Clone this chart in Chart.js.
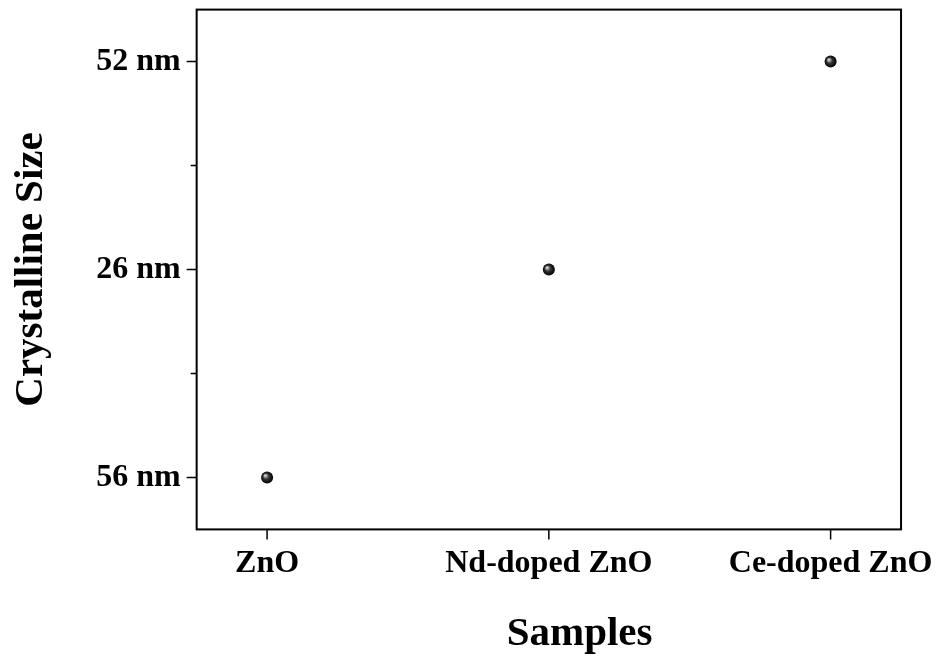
<!DOCTYPE html>
<html>
<head>
<meta charset="utf-8">
<script src="https://cdn.jsdelivr.net/npm/chart.js@4.4.1/dist/chart.umd.min.js"></script>
<style>
  html, body { margin: 0; padding: 0; background: #fff; }
  #wrap { width: 936px; height: 659px; }
</style>
</head>
<body>
<div id="wrap"><canvas id="sizeChart"></canvas></div>
<script>
// ===== Datos =====
const samples = ["ZnO", "Nd-doped ZnO", "Ce-doped ZnO"];
const sizeTicks = ["56 nm", "26 nm", "52 nm"];      // etiquetas eje Y, de abajo hacia arriba
const sampleSizes = ["56 nm", "26 nm", "52 nm"];    // tamaño de cada muestra

const serif = "'Liberation Serif', 'Times New Roman', serif";

const puntos = samples.map((s, i) => ({ x: i, y: sizeTicks.indexOf(sampleSizes[i]) }));

// Marco y ticks (mayores y menores) dibujados desde las escalas
const framePlugin = {
  id: "frame",
  afterDraw(chart) {
    const { ctx, chartArea: a, scales } = chart;
    ctx.save();
    ctx.strokeStyle = "#000";
    ctx.lineWidth = 2;
    ctx.strokeRect(a.left, a.top, a.right - a.left, a.bottom - a.top);

    ctx.lineWidth = 1.5;
    ctx.beginPath();
    scales.x.ticks.forEach(t => {
      const px = scales.x.getPixelForValue(t.value);
      const len = Number.isInteger(t.value) ? 10 : 6;
      ctx.moveTo(px, a.bottom);
      ctx.lineTo(px, a.bottom + len);
    });
    scales.y.ticks.forEach(t => {
      const py = scales.y.getPixelForValue(t.value);
      const len = Number.isInteger(t.value) ? 10 : 6;
      ctx.moveTo(a.left, py);
      ctx.lineTo(a.left - len, py);
    });
    ctx.stroke();
    ctx.restore();
  },
};

function ticksCon(scale, n) {
  const t = [];
  for (let v = 0; v <= n - 1; v += 0.5) t.push({ value: v });
  scale.ticks = t;
}

const ctx = document.getElementById("sizeChart");

new Chart(ctx, {
  type: "scatter",
  data: {
    datasets: [
      {
        data: puntos,
        pointRadius: 6,
        pointHoverRadius: 6,
        borderWidth: 0,
        backgroundColor: (c) => {
          const chart = c.chart;
          if (!c.raw || !chart.chartArea) return "#000";
          const px = chart.scales.x.getPixelForValue(c.raw.x);
          const py = chart.scales.y.getPixelForValue(c.raw.y);
          const g = chart.ctx.createRadialGradient(px - 2, py - 2, 0.5, px, py, 6);
          g.addColorStop(0, "#d8d8d8");
          g.addColorStop(0.45, "#333");
          g.addColorStop(1, "#000");
          return g;
        },
      },
    ],
  },
  options: {
    responsive: true,
    maintainAspectRatio: false,
    animation: false,
    layout: { padding: { top: 1, right: 4, bottom: 0, left: 7 } },
    plugins: {
      legend: { display: false },
      tooltip: { enabled: false },
    },
    scales: {
      x: {
        type: "linear",
        min: -0.25,
        max: 2.25,
        afterBuildTicks: (s) => ticksCon(s, samples.length),
        // espacio bajo el eje sin ensanchar el margen derecho
        grid: { display: true, drawOnChartArea: false, drawTicks: true, tickLength: 12, tickColor: "transparent" },
        border: { display: false },
        ticks: {
          padding: 3,
          maxRotation: 0,
          color: "#000",
          font: { family: serif, size: 32, weight: "bold" },
          callback: (v) => (Number.isInteger(v) ? samples[v] : ""),
        },
        title: {
          display: true,
          text: "\u00a0\u00a0\u00a0\u00a0\u00a0\u00a0Samples",
          color: "#000",
          padding: { top: 24, bottom: 0 },
          font: { family: serif, size: 41, weight: "bold" },
        },
      },
      y: {
        type: "linear",
        min: -0.25,
        max: 2.25,
        afterBuildTicks: (s) => ticksCon(s, sizeTicks.length),
        grid: { display: false },
        border: { display: false },
        ticks: {
          padding: 8,
          color: "#000",
          font: { family: serif, size: 32, weight: "bold", lineHeight: 0.1 },
          callback: (v) => (Number.isInteger(v) ? sizeTicks[v] : ""),
        },
        title: {
          display: true,
          text: "Crystalline Size",
          color: "#000",
          padding: { top: 0, bottom: 32 },
          font: { family: serif, size: 41, weight: "bold" },
        },
      },
    },
  },
  plugins: [framePlugin],
});
</script>
</body>
</html>
